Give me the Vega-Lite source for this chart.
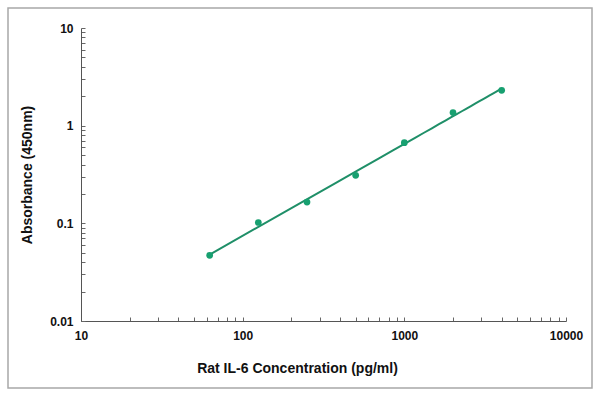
{
  "$schema": "https://vega.github.io/schema/vega-lite/v6.json",
  "width": 584,
  "height": 380,
  "padding": {"left": 8, "top": 8, "right": 8, "bottom": 8},
  "autosize": {"type": "none"},
  "background": "white",
  "config": {
    "view": {"stroke": "#a8a8a8", "strokeWidth": 1.5},
    "axis": {
      "grid": false,
      "labelFont": "Liberation Sans",
      "labelFontWeight": "bold",
      "labelFontSize": 12,
      "labelColor": "#111",
      "labelFlush": false,
      "titleFont": "Liberation Sans",
      "titleFontWeight": "bold",
      "titleFontSize": 14,
      "titleColor": "#111",
      "domainColor": "#555",
      "tickColor": "#666",
      "tickSize": -4,
      "domainWidth": 1
    }
  },
  "data": {
    "values": [
      {"conc": 62.5, "od": 0.047},
      {"conc": 125, "od": 0.102},
      {"conc": 250, "od": 0.165},
      {"conc": 500, "od": 0.31},
      {"conc": 1000, "od": 0.67},
      {"conc": 2000, "od": 1.36},
      {"conc": 4000, "od": 2.3}
    ]
  },
  "layer": [
    {
      "transform": [{"regression": "od", "on": "conc", "method": "pow"}],
      "mark": {"type": "line", "color": "#1f8f68", "strokeWidth": 2},
      "encoding": {
        "x": {"field": "conc", "type": "quantitative"},
        "y": {"field": "od", "type": "quantitative"}
      }
    },
    {
      "mark": {"type": "point", "filled": true, "color": "#17a070", "size": 45, "opacity": 1},
      "encoding": {
        "x": {
          "field": "conc",
          "type": "quantitative",
          "scale": {"type": "log", "domain": [10, 10000], "range": [73, 558], "nice": false},
          "axis": {
            "title": "Rat IL-6 Concentration (pg/ml)",
            "offset": -67,
            "values": [10,20,30,40,50,60,70,80,90,100,200,300,400,500,600,700,800,900,1000,2000,3000,4000,5000,6000,7000,8000,9000,10000],
            "format": "d",
            "labelExpr": "indexof([10,100,1000,10000], datum.value) >= 0 ? datum.label : ''",
            "labelPadding": 13,
            "titleX": 289,
            "titleY": 40
          }
        },
        "y": {
          "field": "od",
          "type": "quantitative",
          "scale": {"type": "log", "domain": [0.01, 10], "range": [313, 20], "nice": false},
          "axis": {
            "title": "Absorbance (450nm)",
            "offset": -73,
            "values": [0.01,0.02,0.03,0.04,0.05,0.06,0.07,0.08,0.09,0.1,0.2,0.3,0.4,0.5,0.6,0.7,0.8,0.9,1,2,3,4,5,6,7,8,9,10],
            "format": "~g",
            "labelExpr": "indexof([0.01,0.1,1,10], datum.value) >= 0 ? datum.label : ''",
            "labelPadding": 12,
            "titleX": -47
          }
        }
      }
    }
  ]
}
